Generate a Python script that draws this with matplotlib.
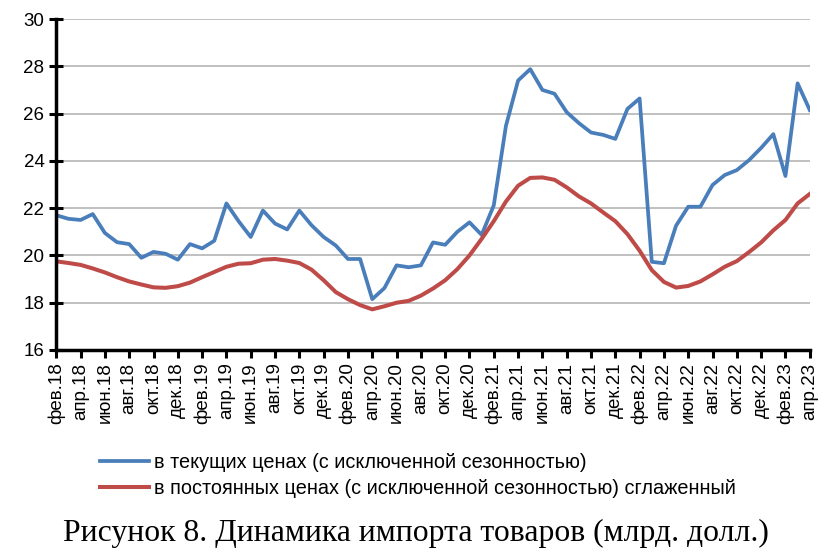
import matplotlib
matplotlib.use("Agg")
import matplotlib.pyplot as plt
import numpy as np

# monthly data, фев.2018 - апр.2023
month_names = ["янв", "фев", "мар", "апр", "май", "июн",
               "июл", "авг", "сен", "окт", "ноя", "дек"]
months = [f"{month_names[(1 + i) % 12]}.{18 + (1 + i) // 12}" for i in range(63)]

current_prices = [
    21.7, 21.55, 21.5, 21.75, 20.95, 20.56, 20.48, 19.9, 20.15, 20.07, 19.82,
    20.48, 20.3, 20.62, 22.2, 21.45, 20.78, 21.9, 21.35, 21.1, 21.9, 21.28,
    20.78, 20.42, 19.85, 19.85, 18.15, 18.62, 19.58, 19.5, 19.58, 20.55,
    20.45, 21.0, 21.4, 20.87, 22.12, 25.48, 27.4, 27.88, 27.0, 26.84, 26.06,
    25.6, 25.2, 25.1, 24.93, 26.2, 26.64, 19.73, 19.67, 21.26, 22.06, 22.06,
    22.98, 23.4, 23.61, 24.03, 24.55, 25.13, 23.36, 27.28, 26.15,
]
constant_prices = [
    19.75, 19.68, 19.6, 19.45, 19.28, 19.08, 18.9, 18.77, 18.65, 18.63, 18.7,
    18.85, 19.08, 19.3, 19.52, 19.65, 19.67, 19.82, 19.85, 19.78, 19.68, 19.4,
    18.95, 18.45, 18.15, 17.9, 17.72, 17.85, 18.0, 18.08, 18.3, 18.6,
    18.95, 19.42, 20.0, 20.7, 21.45, 22.28, 22.95, 23.28, 23.3, 23.2, 22.88,
    22.5, 22.2, 21.82, 21.45, 20.9, 20.2, 19.38, 18.88, 18.64, 18.71, 18.9,
    19.2, 19.52, 19.76, 20.14, 20.55, 21.06, 21.5, 22.2, 22.6,
]

plt.rcParams['font.family'] = ['Liberation Sans', 'DejaVu Sans']

fig = plt.figure(figsize=(8.4, 5.6), dpi=100)
ax = fig.add_axes([0.067, 0.375, 0.897, 0.591])

x = np.arange(len(months))
ax.plot(x, current_prices, color='#4A7EBB', lw=2.7,
        label='в текущих ценах (с исключенной сезонностью)')
ax.plot(x, constant_prices, color='#BE4B48', lw=2.9,
        label='в постоянных ценах (с исключенной сезонностью) сглаженный')

ax.set_xlim(0, len(months) - 1)
ax.set_ylim(16, 30)
ax.set_yticks(np.arange(16, 31, 2))
ax.set_xticks(x[::2])
ax.set_xticklabels(months[::2], rotation=90, fontsize=13.5)
ax.tick_params(axis='y', labelsize=13.5, direction='inout', length=10, width=2.2)
ax.tick_params(axis='x', direction='out', length=6, width=2.2, pad=3)

ax.grid(axis='y', color='#C0C0C0', lw=1.4)
ax.set_axisbelow(True)
for s in ['top', 'right']:
    ax.spines[s].set_visible(False)
for s in ['left', 'bottom']:
    ax.spines[s].set_linewidth(2.5)

fig.legend(loc='upper left', bbox_to_anchor=(0.109, 0.205), frameon=False,
           fontsize=14.3, handlelength=2.5, handletextpad=0.25, labelspacing=0.35,
           borderaxespad=0)

fig.text(0.495, 0.047, 'Рисунок 8. Динамика импорта товаров (млрд. долл.)',
         ha='center', va='center', fontsize=22.8, family='Liberation Serif')

fig.savefig('out.png', dpi=100)
